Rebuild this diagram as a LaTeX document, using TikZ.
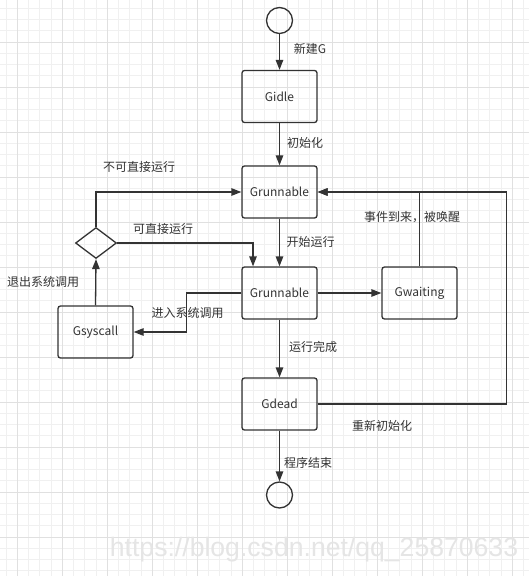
\documentclass[tikz,border=0pt]{standalone}
\usepackage{fontspec}
\newfontfamily\cjk{Noto Sans CJK SC}
\newfontfamily\wmfont{Liberation Sans}
\usetikzlibrary{arrows.meta,shapes.geometric}
\definecolor{ink}{HTML}{333333}
\tikzset{
  gstate/.style={draw=ink, line width=1.3bp, rounded corners=2.5bp, minimum width=75bp, minimum height=52bp, inner sep=0pt, text=ink, font=\cjk\fontsize{12bp}{14bp}\selectfont},
  term/.style={draw=ink, line width=1.3bp, circle, minimum size=26bp, inner sep=0pt},
  choice/.style={draw=ink, line width=1.3bp, diamond, shape aspect=1.32, minimum width=41bp, minimum height=31bp, inner sep=0pt},
  lbl/.style={text=ink, font=\cjk\fontsize{12bp}{14bp}\selectfont, inner sep=0pt},
  flow/.style={draw=ink, line width=1.3bp, -{Triangle[length=10bp,width=7.5bp]}},
}
\begin{document}
\begin{tikzpicture}[x=1bp, y=-1bp]
  \useasboundingbox (0,0) rectangle (529,576);
  \fill[white] (0,0) rectangle (529,576);
  % grid paper
  \foreach \x in {6.05,17.3,...,530} \draw[black!6, line width=0.8bp] (\x,0) -- (\x,576);
  \foreach \y in {8.3,19.55,...,580} \draw[black!6, line width=0.8bp] (0,\y) -- (529,\y);
  \foreach \x in {17.3,62.3,...,530} \draw[black!12, line width=0.8bp] (\x,0) -- (\x,576);
  \foreach \y in {42.3,87.3,...,580} \draw[black!12, line width=0.8bp] (0,\y) -- (529,\y);

  % states
  \node[term] (start) at (279.5,20.5) {};
  \node[gstate] (idle) at (279.5,96.5) {Gidle};
  \node[gstate] (run1) at (279.5,192) {Grunnable};
  \node[gstate] (run2) at (279.5,293) {Grunnable};
  \node[gstate] (dead) at (279.5,404) {Gdead};
  \node[term] (end) at (279.5,495) {};
  \node[gstate] (sys) at (95.5,332) {Gsyscall};
  \node[gstate] (wait) at (419.5,293) {Gwaiting};
  \node[choice] (dia) at (96,243) {};

  % transitions
  \draw[flow] (start) -- (idle);
  \draw[flow] (idle) -- (run1);
  \draw[flow] (run1) -- (run2);
  \draw[flow] (run2) -- (dead);
  \draw[flow] (dead) -- (end);
  \draw[flow] (dia.north) |- (run1.west);
  \draw[flow] (dia.east) -| ([xshift=-26.5bp]run2.north);
  \draw[flow] (run2.west) -- ++(-55,0) |- (sys.east);
  \draw[flow] (sys.north) -- (dia.south);
  \draw[flow] (run2.east) -- (wait.west);
  \draw[flow] (wait.north) |- (run1.east);
  \draw[flow] (dead.east) -- ++(188.5,0) |- (run1.east);

  % labels
  \node[lbl] (l1) at (310,49) {新建G};
  \node[lbl] (l2) at (305,143) {初始化};
  \node[lbl] (l3) at (139,167) {不可直接运行};
  \node[lbl] (l4) at (163,229) {可直接运行};
  \node[lbl] (l5) at (310.5,242) {开始运行};
  \node[lbl] (l6) at (43,282) {退出系统调用};
  \node[lbl] (l7) at (187.5,313) {进入系统调用};
  \node[lbl] (l8) at (412,217) {事件到来，被唤醒};
  \node[lbl] (l9) at (313,347) {运行完成};
  \node[lbl] (l10) at (382,426) {重新初始化};
  \node[lbl] (l11) at (308,463) {程序结束};

  % watermark
  \node[font=\wmfont\fontsize{26.6bp}{30bp}\selectfont, text=black!10, inner sep=0pt] (wm) at (314,550) {https://blog.csdn.net/qq\_25870633};
\end{tikzpicture}
\end{document}
